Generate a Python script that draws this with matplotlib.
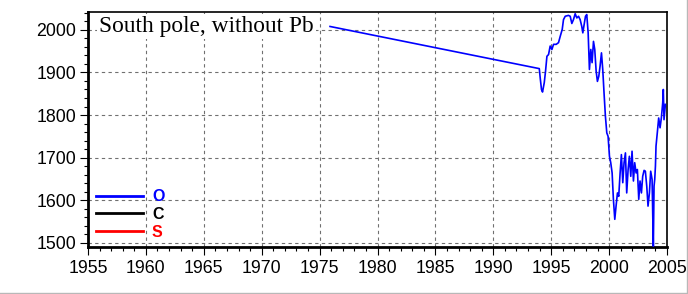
import matplotlib
matplotlib.use('Agg')
import matplotlib.pyplot as plt
from matplotlib.ticker import MultipleLocator
from matplotlib.lines import Line2D

# South pole position series
years = [1975.9, 1993.97, 1994.05, 1994.16, 1994.25, 1994.40, 1994.51, 1994.63, 1994.77, 1994.91,
         1995.06, 1995.20, 1995.43, 1995.63, 1995.78, 1995.95, 1996.06, 1996.21, 1996.49, 1996.64,
         1996.78, 1996.92, 1997.07, 1997.21, 1997.36, 1997.50, 1997.64, 1997.73, 1997.84, 1997.96,
         1998.07, 1998.19, 1998.30, 1998.42, 1998.53, 1998.65, 1998.76, 1998.88, 1998.99, 1999.11,
         1999.22, 1999.34, 1999.45, 1999.57, 1999.68, 1999.80, 1999.91, 2000.03, 2000.14, 2000.26,
         2000.37, 2000.49, 2000.60, 2000.72, 2000.83, 2000.95, 2001.06, 2001.18, 2001.29, 2001.41,
         2001.52, 2001.64, 2001.75, 2001.87, 2001.98, 2002.10, 2002.21, 2002.33, 2002.44, 2002.56,
         2002.67, 2002.79, 2002.90, 2003.02, 2003.13, 2003.25, 2003.36, 2003.48, 2003.59, 2003.71,
         2003.77, 2003.82, 2003.88, 2003.94, 2004.00, 2004.05, 2004.16, 2004.28, 2004.40, 2004.51,
         2004.63, 2004.68, 2004.74, 2004.86]
o_values = [2008, 1909, 1887, 1860, 1854, 1876, 1903, 1938, 1942, 1962,
            1954, 1966, 1966, 1970, 1985, 2001, 2024, 2032, 2034, 2032,
            2015, 2024, 2038, 2028, 2032, 2024, 2008, 1993, 2012, 2032,
            2036, 1993, 1907, 1954, 1923, 1973, 1954, 1903, 1879, 1891,
            1915, 1946, 1907, 1848, 1797, 1758, 1750, 1703, 1688, 1664,
            1602, 1555, 1586, 1617, 1609, 1664, 1707, 1641, 1688, 1711,
            1617, 1672, 1703, 1656, 1715, 1645, 1688, 1664, 1672, 1602,
            1645, 1617, 1656, 1670, 1668, 1633, 1586, 1617, 1668, 1649,
            1562, 1492, 1633, 1649, 1680, 1727, 1758, 1793, 1770, 1793,
            1829, 1860, 1789, 1825]
c_values = []
s_values = []

x_ticks = list(range(1955, 2006, 5))
y_ticks = [1500, 1600, 1700, 1800, 1900, 2000]

fig = plt.figure(figsize=(6.88, 2.94), dpi=100)
ax = fig.add_axes([0.1279, 0.1599, 0.8416, 0.7993])

ax.plot(years, o_values, color='#0000ff', lw=1.2, label='O', zorder=3)
ax.plot(c_values, c_values, color='black', lw=1.2, label='C')
ax.plot(s_values, s_values, color='#ff0000', lw=1.2, label='S')

ax.set_xlim(1955, 2005)
ax.set_ylim(1490, 2042)
ax.set_xticks(x_ticks)
ax.set_yticks(y_ticks)
ax.xaxis.set_minor_locator(MultipleLocator(1))
ax.yaxis.set_minor_locator(MultipleLocator(20))
ax.tick_params(which='major', direction='out', length=6, width=0.8, pad=3.5,
               labelsize=12.8, top=False, right=False)
ax.tick_params(which='minor', direction='out', length=3.2, width=0.8, top=False, right=False)
ax.tick_params(axis='y', pad=2.5)
for lab in ax.get_xticklabels() + ax.get_yticklabels():
    lab.set_fontfamily('Liberation Sans')

ax.grid(True, which='major', color='#707070', linestyle=(0, (3, 3)), linewidth=0.8)
ax.spines['left'].set_linewidth(2)
ax.spines['bottom'].set_linewidth(2)
ax.spines['top'].set_linewidth(1.2)
ax.spines['right'].set_linewidth(1.2)

ax.text(0.019, 0.915, 'South pole, without Pb', transform=ax.transAxes,
        fontsize=16.8, family='Liberation Serif', va='baseline', ha='left',
        bbox=dict(facecolor='white', edgecolor='none', pad=1.5), zorder=5)

leg = ax.legend(loc='lower left', bbox_to_anchor=(0.014, 0.03), frameon=False,
                handlelength=2.95, handletextpad=0.55, labelspacing=0.18,
                borderpad=0, borderaxespad=0, labelcolor='linecolor',
                prop={'family': 'Liberation Sans', 'weight': 'bold', 'size': 11.5})
for line in leg.get_lines():
    line.set_linewidth(2)

# light grey frame on the right and bottom of the picture
fig.add_artist(Line2D([0.9985, 0.9985], [0, 1], transform=fig.transFigure, color='#b8b8b8', lw=1))
fig.add_artist(Line2D([0, 1], [0.0025, 0.0025], transform=fig.transFigure, color='#b8b8b8', lw=1))

fig.savefig('out.png', dpi=100)
